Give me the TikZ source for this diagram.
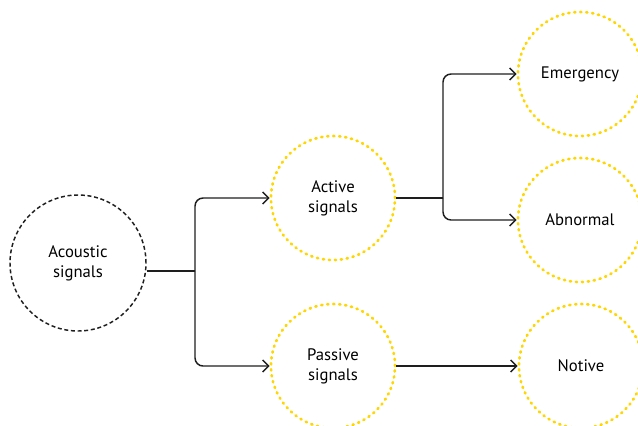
\documentclass[tikz,border=0pt]{standalone}
\usepackage{fontspec}
\setmainfont{PT Sans}
\usetikzlibrary{arrows.meta}

\definecolor{sigyellow}{RGB}{255,214,0}
\definecolor{ink}{RGB}{30,30,30}

\tikzset{
  rootsig/.style={circle, draw=ink, line width=1.1pt, dash pattern=on 3pt off 2pt,
    minimum size=102pt, inner sep=0pt, align=center},
  subsig/.style={circle, draw=sigyellow, line width=2pt, line cap=round,
    dash pattern=on 0.9pt off 3.6pt, minimum size=93pt, inner sep=0pt, align=center},
  trunk/.style={draw=ink, line width=1.1pt},
  branch/.style={trunk, rounded corners=6pt, -{Straight Barb[length=4.5pt, width=9pt, line width=1.1pt]}},
}

\begin{document}
\begin{tikzpicture}[x=0.75pt, y=-0.75pt, font=\fontsize{12.5}{15}\selectfont]
    \useasboundingbox (0,0) rectangle (638,425);

    % the signal circles
    \node[rootsig] (acoustic) at (78,263) {Acoustic\\signals};
    \node[subsig] (active)    at (333,198) {Active\\signals};
    \node[subsig] (passive)   at (333,366) {Passive\\signals};
    \node[subsig] (emergency) at (580,74)  {Emergency};
    \node[subsig] (abnormal)  at (580,220) {Abnormal};
    \node[subsig] (notive)    at (581,366) {Notive};

    % split points
    \coordinate (split1) at (195,271);
    \coordinate (split2) at (443,198);

    \draw[trunk] (acoustic.east |- split1) -- (split1);
    \draw[branch] (split1) |- (active.west);
    \draw[branch] (split1) |- (passive.west);

    \draw[trunk] (active.east) -- (split2);
    \draw[branch] (split2) |- (emergency.west);
    \draw[branch] (split2) |- (abnormal.west);

    \draw[branch] (passive.east) -- (notive.west);
\end{tikzpicture}
\end{document}
